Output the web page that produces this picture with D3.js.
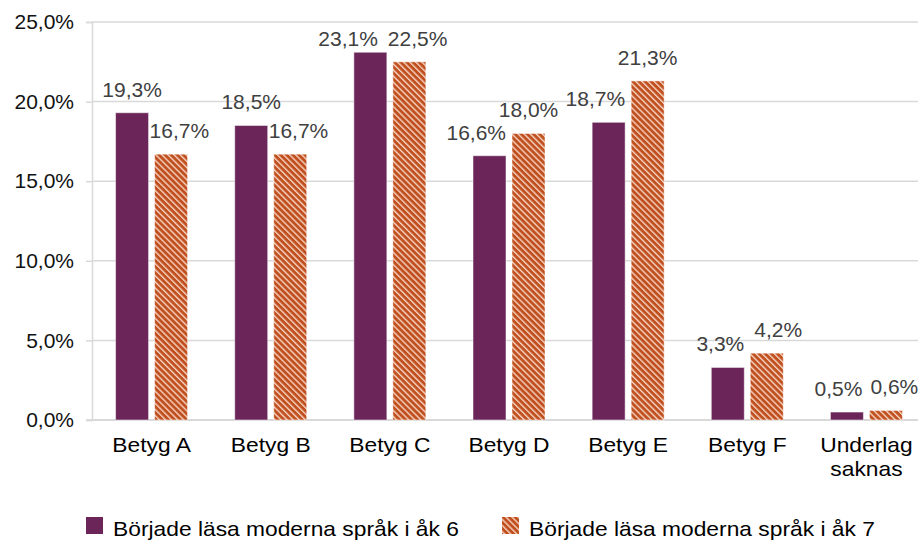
<!DOCTYPE html>
<html>
<head>
<meta charset="utf-8">
<script src="https://cdn.jsdelivr.net/npm/d3@7"></script>
<style>
  body { margin: 0; background: #fff; }
  svg { display: block; font-family: "Liberation Sans", Arial, sans-serif; }
</style>
</head>
<body>
<div class="container"></div>
<script>
var categories = ["Betyg A", "Betyg B", "Betyg C", "Betyg D", "Betyg E", "Betyg F", "Underlag saknas"];
var seriesNames = ["Började läsa moderna språk i åk 6", "Började läsa moderna språk i åk 7"];
var grade6 = [19.3, 18.5, 23.1, 16.6, 18.7, 3.3, 0.5];
var grade7 = [16.7, 16.7, 22.5, 18.0, 21.3, 4.2, 0.6];
var yTicks = [0, 5, 10, 15, 20, 25];

var w = 918, h = 541;
var plotLeft = 92, plotRight = 926, plotTop = 22, plotBottom = 420;
var groupWidth = 72;
var wordStretch = 1.14; // reference text is a bit wider than Liberation Sans

var svg = d3.select(".container")
    .append("svg")
    .attr("width", w)
    .attr("height", h);

// striped fill for the second series
var defs = svg.append("defs");
var pat = defs.append("pattern")
    .attr("id", "stripes")
    .attr("patternUnits", "userSpaceOnUse")
    .attr("width", 4.3)
    .attr("height", 4.3)
    .attr("patternTransform", "rotate(-45)");
pat.append("rect").attr("width", 4.3).attr("height", 4.3).attr("fill", "#c0501f");
pat.append("rect").attr("x", 0).attr("width", 1.4).attr("height", 4.3).attr("fill", "#f6d2c0");

var x = d3.scaleBand()
    .domain(categories)
    .range([plotLeft, plotRight]);

var x1 = d3.scaleBand()
    .domain([0, 1])
    .range([(x.bandwidth() - groupWidth) / 2, (x.bandwidth() + groupWidth) / 2])
    .paddingInner(0.154);

var y = d3.scaleLinear()
    .domain([0, 25])
    .range([plotBottom, plotTop]);

// gridlines
svg.selectAll(".grid")
    .data(yTicks.slice(1))
    .enter()
    .append("line")
    .attr("x1", plotLeft)
    .attr("x2", w)
    .attr("y1", function(d) { return y(d); })
    .attr("y2", function(d) { return y(d); })
    .attr("stroke", "#d9d9d9")
    .attr("stroke-width", 1.5);

var fmt = function(d) { return d.toFixed(1).replace(".", ",") + "%"; };

var yAxis = d3.axisLeft(y)
    .tickValues(yTicks)
    .tickSize(6)
    .tickPadding(12)
    .tickFormat(fmt);

var yAxisGroup = svg.append("g")
    .attr("class", "yaxis")
    .attr("transform", "translate(" + plotLeft + ",0)")
    .call(yAxis);
yAxisGroup.select(".domain").attr("stroke", "#d9d9d9").attr("stroke-width", 1.5);
yAxisGroup.selectAll(".tick line").attr("stroke", "#d9d9d9").attr("stroke-width", 1.5);
yAxisGroup.selectAll("text")
    .attr("font-size", "21px")
    .attr("font-family", "Liberation Sans, Arial, sans-serif")
    .attr("fill", "#111");

// baseline
svg.append("line")
    .attr("x1", plotLeft - 6)
    .attr("x2", w)
    .attr("y1", y(0))
    .attr("y2", y(0))
    .attr("stroke", "#d9d9d9")
    .attr("stroke-width", 2);

var series = [grade6, grade7];
var fills = ["#6b2558", "url(#stripes)"];

series.forEach(function(vals, s) {
    svg.selectAll(".bar" + s)
        .data(vals)
        .enter()
        .append("rect")
        .attr("x", function(d, i) { return x(categories[i]) + x1(s); })
        .attr("y", function(d) { return y(d); })
        .attr("width", x1.bandwidth())
        .attr("height", function(d) { return y(0) - y(d); })
        .attr("fill", fills[s])
        .attr("stroke", "#fff")
        .attr("stroke-opacity", 0.5)
        .attr("stroke-width", 1);
});

// data labels, nudged sideways like Excel does when they would hit a bar or each other
categories.forEach(function(c, i) {
    var labs = series.map(function(vals, s) {
        var t = svg.append("text")
            .attr("font-size", "21px")
            .attr("fill", "#404040")
            .text(fmt(vals[i]));
        var wd = t.node().getComputedTextLength();
        var base = Math.max(y(vals[i]) - 16, 46);
        var barL = x(c) + x1(s);
        return { t: t, w: wd, base: base, left: barL + x1.bandwidth() / 2 - wd / 2,
                 barL: barL, barR: barL + x1.bandwidth(), top: y(vals[i]), moved: false };
    });
    var p = labs[0], o = labs[1];
    // second label against first bar
    if (o.base + 4 > p.top - 6 && o.left < p.barR + 1) { o.left = p.barR + 1; o.moved = true; }
    // first label against second bar
    if (p.base + 4 > o.top - 6 && p.left + p.w > o.barL - 6) { p.left = o.barL - 6 - p.w; p.moved = true; }
    // labels against each other
    var vOverlap = Math.abs(p.base - o.base) < 19;
    var gap = (p.left + p.w + 8) - o.left;
    if (vOverlap && gap > 0) {
        if (o.moved && !p.moved) p.left = o.left - 10 - p.w;
        else if (p.moved && !o.moved) o.left = p.left + p.w + 10;
        else { p.left -= gap / 2; o.left += gap / 2; }
    }
    labs.forEach(function(l) { l.t.attr("x", l.left).attr("y", l.base); });
});

// category labels
svg.selectAll(".cat")
    .data(categories)
    .enter()
    .append("text")
    .attr("text-anchor", "middle")
    .attr("font-size", "20px")
    .attr("fill", "#000")
    .attr("transform", function(d) {
        return "translate(" + (x(d) + x.bandwidth() / 2) + ",452) scale(" + wordStretch + ",1)";
    })
    .each(function(d) {
        var words = d === "Underlag saknas" ? ["Underlag", "saknas"] : [d];
        var t = d3.select(this);
        words.forEach(function(wd, k) {
            t.append("tspan").attr("x", 0).attr("dy", k === 0 ? 0 : 24).text(wd);
        });
    });

// legend
var legendX = [86, 502];
series.forEach(function(vals, s) {
    svg.append("rect")
        .attr("x", legendX[s])
        .attr("y", 517)
        .attr("width", 17)
        .attr("height", 17)
        .attr("fill", fills[s]);
    svg.append("text")
        .attr("transform", "translate(" + (legendX[s] + 27) + ",536) scale(" + wordStretch + ",1)")
        .attr("font-size", "20px")
        .attr("fill", "#000")
        .text(seriesNames[s]);
});
</script>
</body>
</html>
